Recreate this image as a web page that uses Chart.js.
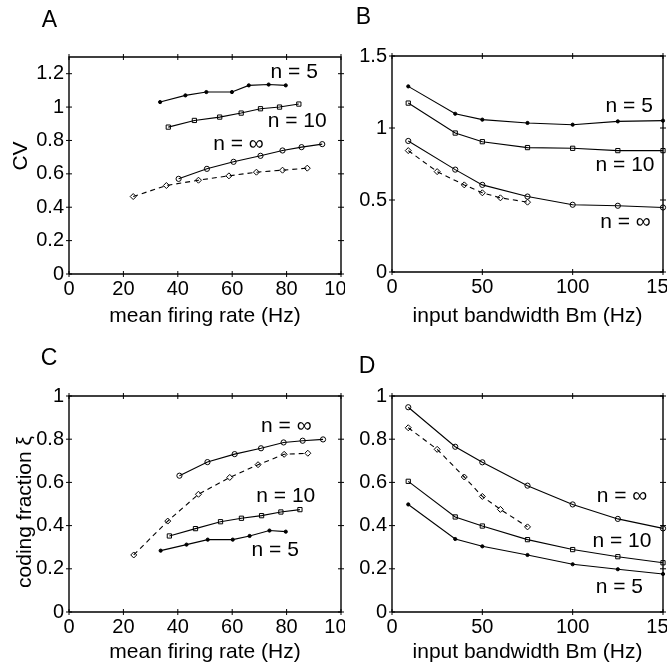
<!DOCTYPE html>
<html>
<head>
<meta charset="utf-8">
<script src="https://cdn.jsdelivr.net/npm/chart.js@4"></script>
<style>
  body { margin: 0; background: #fff; }
  #fig { position: relative; width: 667px; height: 669px; overflow: hidden; background: #fff; }
  #fig canvas { position: absolute; }
</style>
</head>
<body>
<div id="fig">
  <canvas id="panelA" width="345" height="334" style="left:0;top:0"></canvas>
  <canvas id="panelB" width="322" height="334" style="left:345px;top:0"></canvas>
  <canvas id="panelC" width="345" height="335" style="left:0;top:334px"></canvas>
  <canvas id="panelD" width="322" height="335" style="left:345px;top:334px"></canvas>
</div>
<script>
// --- data ---
// A: CV vs mean firing rate
const aRate5 = [33.5, 42.8, 50.5, 59.9, 66.1, 73.4, 79.7];
const aCV5 = [1.03, 1.07, 1.09, 1.09, 1.13, 1.135, 1.13];
const aRate10 = [36.5, 46.1, 55.4, 63.3, 70.4, 77.4, 84.5];
const aCV10 = [0.88, 0.92, 0.94, 0.964, 0.99, 1.0, 1.018];
const aRateInf = [40.3, 50.7, 60.5, 70.4, 78.5, 85.5, 93.1];
const aCVInf = [0.57, 0.63, 0.672, 0.708, 0.74, 0.76, 0.778];
const aRateDash = [23.6, 35.8, 47.6, 58.8, 68.9, 78.5, 87.6];
const aCVDash = [0.464, 0.53, 0.562, 0.588, 0.61, 0.622, 0.634];

// B: CV vs input bandwidth
const bandwidth = [9, 35, 50, 75, 100, 125, 150];
const bandwidthDash = [9, 25, 40, 50, 60, 75];
const bCV5 = [1.289, 1.099, 1.058, 1.035, 1.023, 1.046, 1.051];
const bCV10 = [1.173, 0.965, 0.905, 0.864, 0.859, 0.843, 0.843];
const bCVInf = [0.91, 0.711, 0.605, 0.524, 0.467, 0.46, 0.448];
const bCVDash = [0.843, 0.697, 0.605, 0.55, 0.515, 0.485];

// C: coding fraction vs mean firing rate
const cRateInf = [40.6, 50.9, 60.9, 70.6, 78.9, 85.9, 93.4];
const cXiInf = [0.631, 0.694, 0.731, 0.758, 0.785, 0.793, 0.799];
const cRateDash = [23.8, 36.3, 47.6, 59.1, 69.5, 79.1, 87.8];
const cXiDash = [0.264, 0.421, 0.545, 0.623, 0.682, 0.73, 0.735];
const cRate10 = [36.9, 46.5, 55.7, 63.4, 70.8, 77.9, 84.9];
const cXi10 = [0.352, 0.386, 0.418, 0.434, 0.446, 0.463, 0.474];
const cRate5 = [33.7, 43.2, 51.0, 60.2, 66.4, 73.7, 79.7];
const cXi5 = [0.284, 0.312, 0.335, 0.335, 0.352, 0.377, 0.372];

// D: coding fraction vs input bandwidth
const dXiInf = [0.948, 0.765, 0.693, 0.585, 0.498, 0.431, 0.387];
const dXiDash = [0.853, 0.753, 0.625, 0.535, 0.475, 0.394];
const dXi10 = [0.605, 0.44, 0.398, 0.335, 0.289, 0.256, 0.228];
const dXi5 = [0.498, 0.338, 0.304, 0.264, 0.221, 0.198, 0.176];

// axis ranges and tick values
const rateRange = [0, 100];
const bwRange = [0, 150];
const cvRangeA = [0, 1.3];
const cvRangeB = [0, 1.5];
const xiRange = [0, 1];
const rateTicks = [0, 20, 40, 60, 80, 100];
const bwTicks = [0, 50, 100, 150];
const cvTicksA = [0, 0.2, 0.4, 0.6, 0.8, 1, 1.2];
const cvTicksB = [0, 0.5, 1, 1.5];
const xiTicks = [0, 0.2, 0.4, 0.6, 0.8, 1];

const FONT = '"Liberation Sans", Arial, Helvetica, sans-serif';

// marker looks (MATLAB style: open markers, line shows through)
const markers = {
  dot:     { pointStyle: 'circle', pointRadius: 1.6, pointBackgroundColor: '#000' },
  square:  { pointStyle: 'rect', pointRadius: 3, pointBackgroundColor: 'rgba(0,0,0,0)' },
  circle:  { pointStyle: 'circle', pointRadius: 2.6, pointBackgroundColor: 'rgba(0,0,0,0)' },
  diamond: { pointStyle: 'rectRot', pointRadius: 3, pointBackgroundColor: 'rgba(0,0,0,0)' }
};

function series(xs, ys, marker, dashed) {
  return Object.assign({
    data: xs.map((x, i) => ({ x: x, y: ys[i] })),
    showLine: true,
    borderColor: '#000',
    borderWidth: 1.1,
    borderDash: dashed ? [5, 4] : [],
    pointBorderColor: '#000',
    pointBorderWidth: 1,
    pointHoverRadius: 0,
    tension: 0,
    clip: false
  }, markers[marker]);
}

// axes box drawn as a closed line through the four corners of the ranges
function frame(xr, yr) {
  return {
    data: [
      { x: xr[0], y: yr[0] }, { x: xr[1], y: yr[0] }, { x: xr[1], y: yr[1] },
      { x: xr[0], y: yr[1] }, { x: xr[0], y: yr[0] }
    ],
    showLine: true,
    borderColor: '#000',
    borderWidth: 1.4,
    pointRadius: 0,
    pointHoverRadius: 0,
    tension: 0,
    clip: false
  };
}

// small tick marks on all four sides ('line' point style)
function tickMarks(xr, yr, xt, yt) {
  const base = { showLine: false, pointStyle: 'line', pointRadius: 3, pointHoverRadius: 0, pointBorderColor: '#000', pointBorderWidth: 1, clip: false };
  const xs = [];
  xt.forEach(v => { xs.push({ x: v, y: yr[0] }, { x: v, y: yr[1] }); });
  const ys = [];
  yt.forEach(v => { ys.push({ x: xr[0], y: v }, { x: xr[1], y: v }); });
  return [
    Object.assign({ data: xs, pointRotation: 90 }, base),
    Object.assign({ data: ys, pointRotation: 0 }, base)
  ];
}

// panel letter, y title and the n = ... labels
const panelText = {
  id: 'panelText',
  afterDraw(chart, args, opts) {
    const ctx = chart.ctx;
    const sx = chart.scales.x;
    const sy = chart.scales.y;
    ctx.save();
    ctx.fillStyle = '#000';
    ctx.textAlign = 'center';
    ctx.textBaseline = 'middle';
    ctx.font = '23px ' + FONT;
    ctx.fillText(opts.letter, opts.letterX, opts.letterY);
    if (opts.yTitle) {
      ctx.save();
      ctx.translate(opts.yTitleX, opts.yTitleY);
      ctx.rotate(-Math.PI / 2);
      ctx.font = '21px ' + FONT;
      ctx.fillText(opts.yTitle, 0, 0);
      ctx.restore();
    }
    ctx.font = '21px ' + FONT;
    opts.notes.forEach(n => {
      ctx.fillText(n.text, sx.getPixelForValue(n.x), sy.getPixelForValue(n.y));
    });
    ctx.restore();
  }
};

function fmt(v) {
  return String(Math.round(v * 10) / 10);
}

function makePanel(id, cfg) {
  const datasets = cfg.datasets
    .concat([frame(cfg.xRange, cfg.yRange)])
    .concat(tickMarks(cfg.xRange, cfg.yRange, cfg.xTicks, cfg.yTicks));
  return new Chart(document.getElementById(id), {
    type: 'scatter',
    data: { datasets: datasets },
    plugins: [panelText],
    options: {
      responsive: false,
      animation: false,
      devicePixelRatio: 1,
      layout: { padding: { top: cfg.padTop, right: cfg.padRight, left: 0, bottom: 0 } },
      plugins: {
        legend: { display: false },
        tooltip: { enabled: false },
        panelText: cfg.decor
      },
      scales: {
        x: {
          type: 'linear', position: 'bottom',
          min: cfg.xRange[0], max: cfg.xRange[1],
          grid: { display: false, drawTicks: false },
          border: { display: false },
          afterBuildTicks: s => { s.ticks = cfg.xTicks.map(v => ({ value: v })); },
          afterFit: s => { s.height = cfg.xHeight; s.paddingLeft = 0; s.paddingRight = 0; },
          ticks: { color: '#000', font: { family: FONT, size: 20 }, padding: 3, maxRotation: 0, autoSkip: false, callback: fmt },
          title: { display: true, text: cfg.xTitle, color: '#000', font: { family: FONT, size: 21 }, padding: { top: 0, bottom: cfg.xTitlePad } }
        },
        y: {
          type: 'linear', position: 'left',
          min: cfg.yRange[0], max: cfg.yRange[1],
          grid: { display: false, drawTicks: false },
          border: { display: false },
          afterBuildTicks: s => { s.ticks = cfg.yTicks.map(v => ({ value: v })); },
          afterFit: s => { s.width = cfg.yWidth; s.paddingTop = 0; s.paddingBottom = 0; },
          ticks: { color: '#000', font: { family: FONT, size: 20 }, padding: 5, autoSkip: false, callback: fmt }
        }
      }
    }
  });
}

makePanel('panelA', {
  datasets: [
    series(aRate5, aCV5, 'dot'),
    series(aRate10, aCV10, 'square'),
    series(aRateInf, aCVInf, 'circle'),
    series(aRateDash, aCVDash, 'diamond', true)
  ],
  xRange: rateRange, yRange: cvRangeA,
  xTicks: rateTicks, yTicks: cvTicksA,
  padTop: 57, padRight: 2, yWidth: 69, xHeight: 60, xTitlePad: 5,
  xTitle: 'mean firing rate (Hz)',
  decor: {
    letter: 'A', letterX: 49.5, letterY: 21,
    yTitle: 'CV', yTitleX: 21, yTitleY: 156,
    notes: [
      { text: 'n = 5', x: 82.8, y: 1.21 },
      { text: 'n = 10', x: 83.9, y: 0.914 },
      { text: 'n = \u221e', x: 62.3, y: 0.78 }
    ]
  }
});

makePanel('panelB', {
  datasets: [
    series(bandwidth, bCV5, 'dot'),
    series(bandwidth, bCV10, 'square'),
    series(bandwidth, bCVInf, 'circle'),
    series(bandwidthDash, bCVDash, 'diamond', true)
  ],
  xRange: bwRange, yRange: cvRangeB,
  xTicks: bwTicks, yTicks: cvTicksB,
  padTop: 56, padRight: 3, yWidth: 47, xHeight: 62, xTitlePad: 5,
  xTitle: 'input bandwidth Bm (Hz)',
  decor: {
    letter: 'B', letterX: 18.5, letterY: 17.5,
    notes: [
      { text: 'n = 5', x: 131.3, y: 1.153 },
      { text: 'n = 10', x: 129, y: 0.743 },
      { text: 'n = \u221e', x: 129.2, y: 0.349 }
    ]
  }
});

makePanel('panelC', {
  datasets: [
    series(cRate5, cXi5, 'dot'),
    series(cRate10, cXi10, 'square'),
    series(cRateInf, cXiInf, 'circle'),
    series(cRateDash, cXiDash, 'diamond', true)
  ],
  xRange: rateRange, yRange: xiRange,
  xTicks: rateTicks, yTicks: xiTicks,
  padTop: 62, padRight: 2, yWidth: 69, xHeight: 57, xTitlePad: 4,
  xTitle: 'mean firing rate (Hz)',
  decor: {
    letter: 'C', letterX: 49, letterY: 25,
    yTitle: 'coding fraction \u03be', yTitleX: 25, yTitleY: 178,
    notes: [
      { text: 'n = \u221e', x: 79.9, y: 0.86 },
      { text: 'n = 10', x: 79.7, y: 0.534 },
      { text: 'n = 5', x: 75.8, y: 0.288 }
    ]
  }
});

makePanel('panelD', {
  datasets: [
    series(bandwidth, dXi5, 'dot'),
    series(bandwidth, dXi10, 'square'),
    series(bandwidth, dXiInf, 'circle'),
    series(bandwidthDash, dXiDash, 'diamond', true)
  ],
  xRange: bwRange, yRange: xiRange,
  xTicks: bwTicks, yTicks: xiTicks,
  padTop: 62, padRight: 3, yWidth: 47, xHeight: 57, xTitlePad: 4,
  xTitle: 'input bandwidth Bm (Hz)',
  decor: {
    letter: 'D', letterX: 22, letterY: 32.5,
    notes: [
      { text: 'n = \u221e', x: 127.3, y: 0.538 },
      { text: 'n = 10', x: 127.3, y: 0.33 },
      { text: 'n = 5', x: 125.8, y: 0.114 }
    ]
  }
});
</script>
</body>
</html>
